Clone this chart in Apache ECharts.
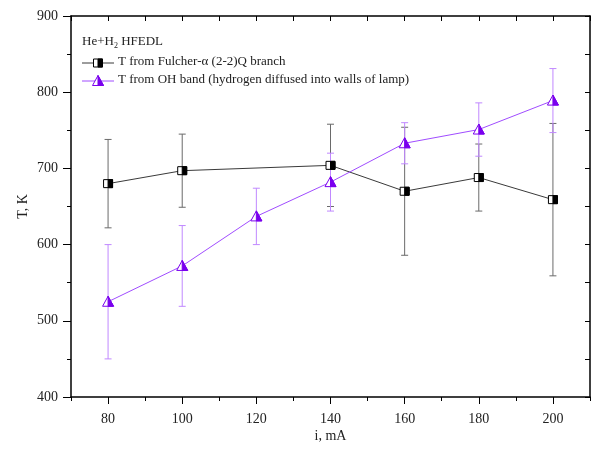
<!DOCTYPE html>
<html>
<head>
<meta charset="utf-8">
<script src="https://cdn.jsdelivr.net/npm/echarts@6/dist/echarts.min.js"></script>
<style>
  html, body { margin: 0; padding: 0; background: #fff; }
  #chart { width: 599px; height: 449px; }
</style>
</head>
<body>
<div id="chart"></div>
<script>
// Discharge current, mA, and gas temperature, K
const fulcherCurrent = [80, 100, 140, 160, 180, 200];
const fulcherTemp    = [680, 697, 704, 670, 688, 659];
const fulcherErr     = [58, 48, 54, 84, 44, 100];

const ohCurrent = [80, 100, 120, 140, 160, 180, 200];
const ohTemp    = [525, 572, 637, 682, 733, 751, 789];
const ohErr     = [75, 53, 37, 38, 27, 35, 42];

const xMajorTicks = [80, 100, 120, 140, 160, 180, 200];

const FONT = '"Liberation Serif", "DejaVu Serif", serif';
const BLACK_LINE = '#3a3a3a', BLACK_BAR = '#6a6a6a';
const PURPLE_LINE = '#a04cff', PURPLE_BAR = '#c088ff', PURPLE_MARK = '#7a00ee';

function pairs(xs, ys) { return xs.map((x, i) => [x, ys[i]]); }
function triples(xs, ys, es) { return xs.map((x, i) => [x, ys[i], es[i]]); }

// half-filled marker shapes (left half open, right half solid)
function squareMarker(cx, cy, color) {
  return [
    { type: 'rect', shape: { x: cx - 4.5, y: cy - 4, width: 9, height: 8 },
      style: { fill: '#fff', stroke: color, lineWidth: 1 } },
    { type: 'rect', shape: { x: cx, y: cy - 4, width: 4.5, height: 8 },
      style: { fill: color, stroke: color, lineWidth: 1 } }
  ];
}
function triangleMarker(cx, cy, color) {
  return [
    { type: 'polygon', shape: { points: [[cx - 5.5, cy + 4.5], [cx, cy - 5.5], [cx + 5.5, cy + 4.5]] },
      style: { fill: '#fff', stroke: color, lineWidth: 1 } },
    { type: 'polygon', shape: { points: [[cx, cy - 5.5], [cx + 5.5, cy + 4.5], [cx, cy + 4.5]] },
      style: { fill: color, stroke: color, lineWidth: 1 } }
  ];
}

function errorBars(barColor) {
  return function (params, api) {
    const x = api.value(0), y = api.value(1), e = api.value(2);
    const hi = api.coord([x, y + e]);
    const lo = api.coord([x, y - e]);
    const w = 3.5;
    const st = { stroke: barColor, lineWidth: 1 };
    return {
      type: 'group',
      children: [
        { type: 'line', shape: { x1: hi[0], y1: hi[1], x2: lo[0], y2: lo[1] }, style: st },
        { type: 'line', shape: { x1: hi[0] - w, y1: hi[1], x2: hi[0] + w, y2: hi[1] }, style: st },
        { type: 'line', shape: { x1: lo[0] - w, y1: lo[1], x2: lo[0] + w, y2: lo[1] }, style: st }
      ]
    };
  };
}
function markers(shapeFn, color) {
  return function (params, api) {
    const c = api.coord([api.value(0), api.value(1)]);
    return { type: 'group', children: shapeFn(c[0], c[1], color) };
  };
}

const chart = echarts.init(document.getElementById('chart'), null, { renderer: 'canvas' });

const grid = { left: 71, right: 9, top: 16, bottom: 52 };

// legend block in the upper-left corner of the plot
const lgX = 82, row1 = 63, row2 = 81;
const legendGraphics = [
  { type: 'text', left: lgX, top: 35,
    style: { text: 'He+H{s|2} HFEDL', font: '13px ' + FONT, fill: '#222',
             rich: { s: { fontSize: 8, fontFamily: FONT, padding: [8, 0, 0, 0] } } } },
  { type: 'line', shape: { x1: lgX, y1: row1, x2: lgX + 32, y2: row1 }, style: { stroke: BLACK_LINE, lineWidth: 1 } },
  { type: 'group', children: squareMarker(lgX + 16, row1, '#000') },
  { type: 'text', left: lgX + 36, top: row1 - 8,
    style: { text: 'T from Fulcher-α (2-2)Q branch', font: '13px ' + FONT, fill: '#222' } },
  { type: 'line', shape: { x1: lgX, y1: row2, x2: lgX + 32, y2: row2 }, style: { stroke: PURPLE_LINE, lineWidth: 1 } },
  { type: 'group', children: triangleMarker(lgX + 16, row2, PURPLE_MARK) },
  { type: 'text', left: lgX + 36, top: row2 - 8,
    style: { text: 'T from OH band (hydrogen diffused into walls of lamp)', font: '13px ' + FONT, fill: '#222' } }
];

const axisLine = { show: true, lineStyle: { color: '#000', width: 1.5 } };

chart.setOption({
  backgroundColor: '#fff',
  animation: false,
  grid: grid,
  graphic: legendGraphics,
  xAxis: [
    { // bottom: short ticks every 10, labels at majors
      type: 'value', position: 'bottom', min: 70, max: 210, interval: 10,
      axisLine: axisLine,
      axisTick: { show: true, inside: false, length: 4, lineStyle: { color: '#000', width: 1 } },
      axisLabel: { show: true, customValues: xMajorTicks, margin: 15, color: '#222',
                   fontFamily: FONT, fontSize: 14 },
      splitLine: { show: false },
      name: 'i, mA', nameLocation: 'middle', nameGap: 32, nameMoveOverlap: false,
      nameTextStyle: { fontFamily: FONT, fontSize: 14, color: '#222' }
    },
    { // bottom: long ticks at majors
      type: 'value', position: 'bottom', min: 70, max: 210, interval: 10,
      axisLine: { show: false },
      axisTick: { show: true, inside: false, length: 7, customValues: xMajorTicks,
                  lineStyle: { color: '#000', width: 1 } },
      axisLabel: { show: false },
      splitLine: { show: false }
    },
    { // top mirror axis
      type: 'value', position: 'top', min: 70, max: 210, interval: 10,
      axisLine: axisLine,
      axisTick: { show: true, inside: true, length: 5, lineStyle: { color: '#000', width: 1 } },
      axisLabel: { show: false },
      splitLine: { show: false }
    }
  ],
  yAxis: [
    {
      type: 'value', position: 'left', min: 400, max: 900, interval: 100,
      axisLine: axisLine,
      axisTick: { show: true, inside: false, length: 8, lineStyle: { color: '#000', width: 1 } },
      minorTick: { show: true, splitNumber: 2, length: 4, lineStyle: { color: '#000', width: 1 } },
      axisLabel: { show: true, margin: 13, color: '#222', fontFamily: FONT, fontSize: 14 },
      splitLine: { show: false },
      name: 'T, K', nameLocation: 'middle', nameGap: 41, nameRotate: 90, nameMoveOverlap: false,
      nameTextStyle: { fontFamily: FONT, fontSize: 14, color: '#222' }
    },
    { // right mirror axis
      type: 'value', position: 'right', min: 400, max: 900, interval: 50,
      axisLine: axisLine,
      axisTick: { show: true, inside: true, length: 5, lineStyle: { color: '#000', width: 1 } },
      axisLabel: { show: false },
      splitLine: { show: false }
    }
  ],
  series: [
    { type: 'line', name: 'Fulcher', data: pairs(fulcherCurrent, fulcherTemp),
      symbol: 'none', lineStyle: { color: BLACK_LINE, width: 1 }, z: 2 },
    { type: 'line', name: 'OH', data: pairs(ohCurrent, ohTemp),
      symbol: 'none', lineStyle: { color: PURPLE_LINE, width: 1 }, z: 2 },
    { type: 'custom', data: triples(fulcherCurrent, fulcherTemp, fulcherErr),
      renderItem: errorBars(BLACK_BAR), z: 3 },
    { type: 'custom', data: triples(ohCurrent, ohTemp, ohErr),
      renderItem: errorBars(PURPLE_BAR), z: 3 },
    { type: 'custom', data: pairs(fulcherCurrent, fulcherTemp),
      renderItem: markers(squareMarker, '#000'), z: 4 },
    { type: 'custom', data: pairs(ohCurrent, ohTemp),
      renderItem: markers(triangleMarker, PURPLE_MARK), z: 4 }
  ]
});
</script>
</body>
</html>
